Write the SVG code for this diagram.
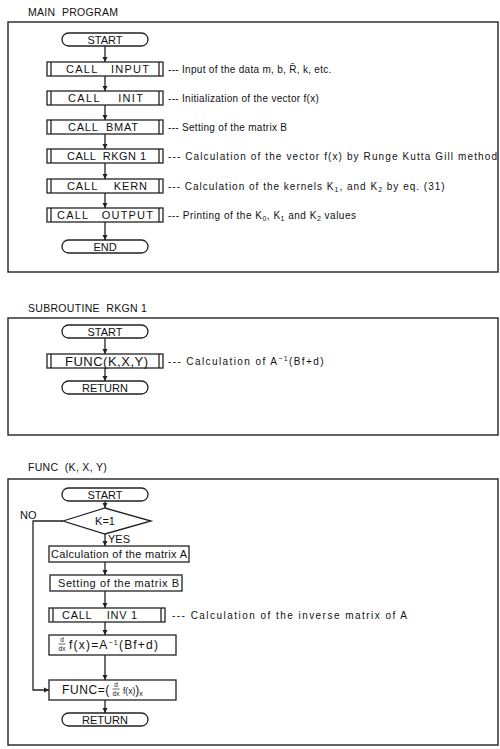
<svg xmlns="http://www.w3.org/2000/svg" width="500" height="749" viewBox="0 0 500 749">
<style>
.frame{fill:none;stroke:#222;stroke-width:1.4}
.box{fill:#fff;stroke:#222;stroke-width:1.3}
.ln{fill:none;stroke:#222;stroke-width:1.3}
.t{font-family:"Liberation Sans",Arial,sans-serif;font-size:11px;fill:#111}
.title{font-family:"Liberation Sans",Arial,sans-serif;font-size:10.5px;fill:#111;letter-spacing:0.3px}
.a{font-family:"Liberation Sans",Arial,sans-serif;font-size:10px;fill:#111}
.s{font-size:7px}
.f{font-family:"Liberation Sans",Arial,sans-serif;font-size:6.5px;fill:#111}
</style>
<defs>
<marker id="ah" markerWidth="6" markerHeight="6" refX="5" refY="3" orient="auto" markerUnits="userSpaceOnUse">
<path d="M0,0.5 L5,3 L0,5.5 Z" fill="#222"/>
</marker>
</defs>
<rect width="500" height="749" fill="#fff"/>

<!-- MAIN PROGRAM -->
<text class="title" x="28" y="16" xml:space="preserve">MAIN  PROGRAM</text>
<rect class="frame" x="8" y="22" width="490" height="250"/>

<g id="connectors">
<line class="ln" x1="105" y1="46" x2="105" y2="62" marker-end="url(#ah)"/>
<line class="ln" x1="105" y1="76" x2="105" y2="91" marker-end="url(#ah)"/>
<line class="ln" x1="105" y1="105" x2="105" y2="120" marker-end="url(#ah)"/>
<line class="ln" x1="105" y1="134" x2="105" y2="149" marker-end="url(#ah)"/>
<line class="ln" x1="105" y1="163" x2="105" y2="179" marker-end="url(#ah)"/>
<line class="ln" x1="105" y1="193" x2="105" y2="208" marker-end="url(#ah)"/>
<line class="ln" x1="105" y1="222" x2="105" y2="240" marker-end="url(#ah)"/>

<line class="ln" x1="105" y1="338" x2="105" y2="354" marker-end="url(#ah)"/>
<line class="ln" x1="105" y1="368" x2="105" y2="381" marker-end="url(#ah)"/>

<line class="ln" x1="105" y1="501" x2="105" y2="508" marker-end="url(#ah)"/>
<line class="ln" x1="105" y1="534" x2="105" y2="546" marker-end="url(#ah)"/>
<line class="ln" x1="105" y1="562" x2="105" y2="575" marker-end="url(#ah)"/>
<line class="ln" x1="105" y1="591" x2="105" y2="608" marker-end="url(#ah)"/>
<line class="ln" x1="105" y1="622" x2="105" y2="635" marker-end="url(#ah)"/>
<line class="ln" x1="105" y1="655" x2="105" y2="680" marker-end="url(#ah)"/>
<line class="ln" x1="105" y1="700" x2="105" y2="713" marker-end="url(#ah)"/>
<polyline class="ln" points="63,521 33,521 33,690 49,690" marker-end="url(#ah)"/>
</g>

<g id="m_start"><rect class="box" x="62" y="33" width="86" height="13" rx="6.5"/><text class="t" x="105" y="43.5" text-anchor="middle">START</text></g>

<g id="m_input"><rect class="box" x="47" y="62" width="116" height="14"/><line class="ln" x1="51" y1="62" x2="51" y2="76"/><line class="ln" x1="159" y1="62" x2="159" y2="76"/><text class="t" x="66" y="73" textLength="83" lengthAdjust="spacing" xml:space="preserve">CALL   INPUT</text>
<text class="a" x="168" y="73" letter-spacing="0.3" xml:space="preserve">--- Input of the data m, b, R̄, k, etc.</text></g>

<g id="m_init"><rect class="box" x="47" y="91" width="116" height="14"/><line class="ln" x1="51" y1="91" x2="51" y2="105"/><line class="ln" x1="159" y1="91" x2="159" y2="105"/><text class="t" x="68" y="102" textLength="75" lengthAdjust="spacing" xml:space="preserve">CALL    INIT</text>
<text class="a" x="168" y="102" letter-spacing="0.3" xml:space="preserve">--- Initialization of the vector f(x)</text></g>

<g id="m_bmat"><rect class="box" x="47" y="120" width="116" height="14"/><line class="ln" x1="51" y1="120" x2="51" y2="134"/><line class="ln" x1="159" y1="120" x2="159" y2="134"/><text class="t" x="68" y="131" textLength="70" lengthAdjust="spacing" xml:space="preserve">CALL  BMAT</text>
<text class="a" x="168" y="131" letter-spacing="0.3" xml:space="preserve">--- Setting of the matrix B</text></g>

<g id="m_rkgn"><rect class="box" x="47" y="149" width="116" height="14"/><line class="ln" x1="51" y1="149" x2="51" y2="163"/><line class="ln" x1="159" y1="149" x2="159" y2="163"/><text class="t" x="67" y="160" textLength="79" lengthAdjust="spacing" xml:space="preserve">CALL  RKGN 1</text>
<text class="a" x="168" y="160" textLength="329" lengthAdjust="spacing" xml:space="preserve">--- Calculation of the vector f(x) by Runge Kutta Gill method</text></g>

<g id="m_kern"><rect class="box" x="47" y="179" width="116" height="14"/><line class="ln" x1="51" y1="179" x2="51" y2="193"/><line class="ln" x1="159" y1="179" x2="159" y2="193"/><text class="t" x="67" y="190" textLength="80" lengthAdjust="spacing" xml:space="preserve">CALL    KERN</text>
<text class="a" x="168" y="190" xml:space="preserve" letter-spacing="1">--- Calculation of the kernels K<tspan class="s" dy="2">1</tspan><tspan dy="-2">, and K</tspan><tspan class="s" dy="2">2</tspan><tspan dy="-2"> by eq. (31)</tspan></text></g>

<g id="m_output"><rect class="box" x="47" y="208" width="116" height="14"/><line class="ln" x1="51" y1="208" x2="51" y2="222"/><line class="ln" x1="159" y1="208" x2="159" y2="222"/><text class="t" x="57" y="219" textLength="96" lengthAdjust="spacing" xml:space="preserve">CALL   OUTPUT</text>
<text class="a" x="168" y="219" xml:space="preserve" letter-spacing="0.5">--- Printing of the K<tspan class="s" dy="2">0</tspan><tspan dy="-2">, K</tspan><tspan class="s" dy="2">1</tspan><tspan dy="-2"> and K</tspan><tspan class="s" dy="2">2</tspan><tspan dy="-2"> values</tspan></text></g>

<g id="m_end"><rect class="box" x="62" y="240" width="86" height="13" rx="6.5"/><text class="t" x="105" y="250.5" text-anchor="middle">END</text></g>

<!-- SUBROUTINE RKGN 1 -->
<text class="title" x="28" y="312" xml:space="preserve">SUBROUTINE  RKGN 1</text>
<rect class="frame" x="8" y="318" width="490" height="117"/>

<g id="r_start"><rect class="box" x="62" y="325" width="86" height="13" rx="6.5"/><text class="t" x="105" y="335.5" text-anchor="middle">START</text></g>
<g id="r_func"><rect class="box" x="47" y="354" width="116" height="14"/><line class="ln" x1="51" y1="354" x2="51" y2="368"/><line class="ln" x1="159" y1="354" x2="159" y2="368"/><text class="t" x="65" y="366" style="font-size:13px" textLength="83" lengthAdjust="spacing">FUNC(K,X,Y)</text>
<text class="a" x="168" y="365" xml:space="preserve" letter-spacing="1.4">--- Calculation of A<tspan class="s" dy="-4">−1</tspan><tspan dy="4">(Bf+d)</tspan></text></g>
<g id="r_return"><rect class="box" x="62" y="381" width="86" height="13" rx="6.5"/><text class="t" x="105" y="391.5" text-anchor="middle">RETURN</text></g>

<!-- FUNC -->
<text class="title" x="28" y="471" xml:space="preserve">FUNC  (K, X, Y)</text>
<rect class="frame" x="8" y="479" width="490" height="266"/>

<g id="f_start"><rect class="box" x="62" y="488" width="86" height="13" rx="6.5"/><text class="t" x="105" y="498.5" text-anchor="middle">START</text></g>
<g id="f_dec"><polygon class="box" points="63,521 105,508 151,521 105,534"/><text class="t" x="105" y="525" text-anchor="middle">K=1</text>
<text class="t" x="20" y="519">NO</text><text class="t" x="108" y="543">YES</text></g>
<g id="f_calcA"><rect class="box" x="49" y="546" width="140" height="16"/><text class="t" x="51" y="557.5" textLength="136" lengthAdjust="spacing">Calculation of the matrix A</text></g>
<g id="f_setB"><rect class="box" x="50" y="575" width="132" height="16"/><text class="t" x="58" y="586.5" textLength="121" lengthAdjust="spacing">Setting of the matrix B</text></g>
<g id="f_inv"><rect class="box" x="49" y="608" width="116" height="14"/><line class="ln" x1="53" y1="608" x2="53" y2="622"/><line class="ln" x1="161" y1="608" x2="161" y2="622"/><text class="t" x="62" y="619" textLength="75" lengthAdjust="spacing" xml:space="preserve">CALL    INV 1</text>
<text class="a" x="172" y="619" textLength="235" lengthAdjust="spacing" xml:space="preserve">--- Calculation of the inverse matrix of A</text></g>
<g id="f_ddx"><rect class="box" x="49" y="635" width="127" height="20"/>
<text class="f" x="62" y="641.5" text-anchor="middle">d</text><line x1="58.5" y1="644" x2="65.5" y2="644" stroke="#222" stroke-width="0.7"/><text class="f" x="62" y="651" text-anchor="middle">dx</text>
<text class="t" x="69" y="649" style="font-size:12px" letter-spacing="1.2">f(x)=A<tspan class="s" dy="-4">−1</tspan><tspan dy="4">(Bf+d)</tspan></text></g>
<g id="f_func"><rect class="box" x="49" y="680" width="127" height="20"/>
<text class="t" x="62" y="694" style="font-size:12px" letter-spacing="0.6">FUNC=(</text>
<text class="f" x="116" y="686.5" text-anchor="middle">d</text><line x1="112.5" y1="689" x2="119.5" y2="689" stroke="#222" stroke-width="0.7"/><text class="f" x="116" y="696" text-anchor="middle">dx</text>
<text class="t" x="123" y="694" style="font-size:12px"><tspan font-size="8.5">f(x)</tspan>)<tspan class="s" dy="2">x</tspan></text></g>
<g id="f_return"><rect class="box" x="62" y="713" width="86" height="13" rx="6.5"/><text class="t" x="105" y="723.5" text-anchor="middle">RETURN</text></g>
</svg>
